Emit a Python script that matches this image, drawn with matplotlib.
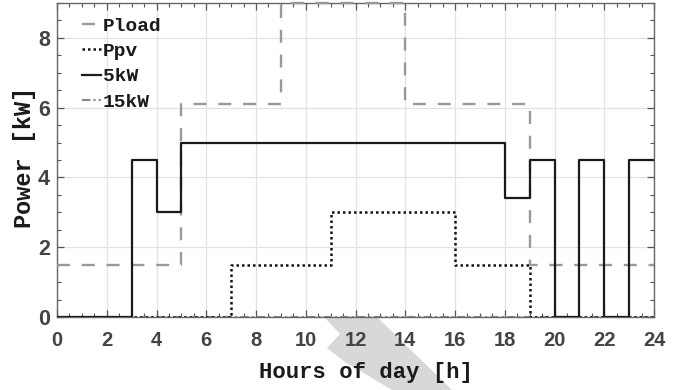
import matplotlib
matplotlib.use("Agg")
import matplotlib.pyplot as plt
from matplotlib.patches import Polygon
from matplotlib.ticker import MultipleLocator

hours = [0, 1, 2, 3, 4, 5, 6, 7, 8, 9, 10, 11, 12, 13, 14, 15, 16, 17, 18, 19, 20, 21, 22, 23, 24]
pload = [1.5, 1.5, 1.5, 1.5, 1.5, 6.1, 6.1, 6.1, 6.1, 9.0, 9.0, 9.0, 9.0, 9.0,
         6.1, 6.1, 6.1, 6.1, 6.1, 1.5, 1.5, 1.5, 1.5, 1.5]
ppv = [0, 0, 0, 0, 0, 0, 0, 1.5, 1.5, 1.5, 1.5, 3.0, 3.0, 3.0, 3.0, 3.0,
       1.5, 1.5, 1.5, 0, 0, 0, 0, 0]
p5kw = [0, 0, 0, 4.5, 3.0, 5.0, 5.0, 5.0, 5.0, 5.0, 5.0, 5.0, 5.0, 5.0, 5.0, 5.0,
        5.0, 5.0, 3.4, 4.5, 0, 4.5, 0, 4.5]
p15kw = [0, 0, 0, 0, 0, 0, 0, 0, 0, 0, 0, 0, 0, 0, 0, 0, 0, 0, 0, 0, 0, 0, 0, 0]
labels = ["Pload", "Ppv", "5kW", "15kW"]
xticks = [0, 2, 4, 6, 8, 10, 12, 14, 16, 18, 20, 22, 24]
yticks = [0, 2, 4, 6, 8]

fig = plt.figure(figsize=(6.95, 3.9), dpi=100)
W, H = 695, 390

# light gray diagonal stripe (scan artefact)
pts = [(325, 318), (378, 318), (452, 390), (392, 390), (345, 362), (327, 348), (340, 334)]
fig.patches.append(Polygon([(x / W, 1 - y / H) for x, y in pts], closed=True,
                           transform=fig.transFigure, facecolor="#d8d8d8",
                           edgecolor="none", zorder=0))

ax = fig.add_axes([57 / W, 1 - 317 / H, (654 - 57) / W, (317 - 3) / H])
ax.set_zorder(1)
ax.set_facecolor("white")

def ext(v):
    return list(v) + [v[-1]]

ax.step(hours, ext(pload), where="post", color="#999999", lw=1.7,
        dashes=(5.5, 5), label=labels[0], clip_on=False, zorder=3)
ax.step(hours, ext(ppv), where="post", color="#111111", lw=1.8,
        linestyle=(0, (1, 1.2)), label=labels[1], zorder=4)
ax.step(hours, ext(p5kw), where="post", color="#1a1a1a", lw=1.6,
        label=labels[2], zorder=5)
ax.step(hours, ext(p15kw), where="post", color="#888888", lw=1.5,
        linestyle=(0, (4, 1.5, 1, 1.5)), label=labels[3], zorder=2)

ax.set_xlim(0, 24)
ax.set_ylim(0, 9)
ax.set_xticks(xticks)
ax.set_yticks(yticks)
ax.xaxis.set_minor_locator(MultipleLocator(0.5))
ax.yaxis.set_minor_locator(MultipleLocator(0.5))
ax.grid(True, which="major", color="#e2e2e2", lw=0.9, zorder=0)
ax.set_axisbelow(True)
ax.tick_params(which="both", direction="in", top=True, right=True, color="#555555")
ax.tick_params(which="major", length=5, width=0.9)
ax.tick_params(which="minor", length=3, width=0.8)
ax.tick_params(axis="x", which="major", pad=10)
ax.tick_params(axis="y", which="major", pad=5)
for s in ax.spines.values():
    s.set_color("#666666")
    s.set_linewidth(1.0)

for lab in ax.get_xticklabels():
    lab.set_fontfamily("Liberation Sans")
    lab.set_fontweight("bold")
    lab.set_fontsize(14.5)
    lab.set_color("#444444")
for lab in ax.get_yticklabels():
    lab.set_fontfamily("Liberation Sans")
    lab.set_fontweight("bold")
    lab.set_fontsize(15.5)
    lab.set_color("#444444")

ax.set_xlabel("Hours of day [h]", fontfamily="Liberation Mono", fontweight="bold",
              fontsize=16, color="#1a1a1a")
ax.set_ylabel("Power [kW]", fontfamily="Liberation Mono", fontweight="bold",
              fontsize=17, color="#1a1a1a")
ax.xaxis.set_label_coords((366 - 57) / 597, -(362 - 317) / 314)
ax.yaxis.set_label_coords((36 - 57) / 597, (317 - 157.5) / 314)

leg = ax.legend(loc="upper left", frameon=False, handlelength=1.0, handletextpad=0.08,
                labelspacing=0.4, borderpad=0, borderaxespad=0,
                bbox_to_anchor=((82 - 57) / 597, (317 - 17) / 314),
                prop={"family": "Liberation Mono", "weight": "bold", "size": 14})
for t in leg.get_texts():
    t.set_color("#1a1a1a")

fig.savefig("out.png", dpi=100)
